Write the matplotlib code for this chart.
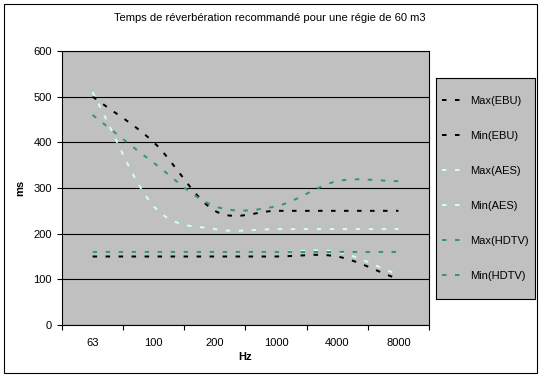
import matplotlib
matplotlib.use("Agg")
import matplotlib.pyplot as plt
from matplotlib.path import Path
from matplotlib.patches import PathPatch, Rectangle
from matplotlib.lines import Line2D

plt.rcParams['font.family'] = ['Liberation Sans', 'DejaVu Sans']
plt.rcParams['font.size'] = 8

title = "Temps de réverbération recommandé pour une régie de 60 m3"
freqs = ["63", "100", "200", "1000", "4000", "8000"]

# values (ms)
max_ebu = [500, 400, 250, 250, 250, 250]
min_ebu = [150, 150, 150, 150, 150, 100]
max_aes = [510, 260, 210, 210, 210, 210]
min_aes = [160, 160, 160, 160, 160, 110]
max_hdtv = [460, 355, 260, 260, 315, 315]
min_hdtv = [160, 160, 160, 160, 160, 160]

labels = ["Max(EBU)", "Min(EBU)", "Max(AES)", "Min(AES)", "Max(HDTV)", "Min(HDTV)"]
values = [max_ebu, min_ebu, max_aes, min_aes, max_hdtv, min_hdtv]
colors = ["black", "black", "#CCFFFF", "#CCFFFF", "#339966", "#339966"]

dash = (0, (2.25, 4.25))
lw = 1.44


def smooth_path(xs, ys):
    # excel style "smoothed line": bezier segments through the points
    n = len(xs)
    tang = []
    for i in range(n):
        if i == 0:
            tang.append((xs[1] - xs[0], ys[1] - ys[0]))
        elif i == n - 1:
            tang.append((xs[-1] - xs[-2], ys[-1] - ys[-2]))
        else:
            tang.append(((xs[i+1] - xs[i-1]) / 2, (ys[i+1] - ys[i-1]) / 2))
    verts = [(xs[0], ys[0])]
    codes = [Path.MOVETO]
    for i in range(n - 1):
        verts.append((xs[i] + tang[i][0] / 3, ys[i] + tang[i][1] / 3))
        verts.append((xs[i+1] - tang[i+1][0] / 3, ys[i+1] - tang[i+1][1] / 3))
        verts.append((xs[i+1], ys[i+1]))
        codes += [Path.CURVE4] * 3
    return Path(verts, codes)


fig = plt.figure(figsize=(5.42, 3.79), dpi=100)
W, H = 542.0, 379.0
ax = fig.add_axes([62/W, 1 - 325/H, (429-62)/W, (325-51)/H])
ax.set_facecolor('#C0C0C0')

x = list(range(1, len(freqs) + 1))
for vals, col in zip(values, colors):
    ax.add_patch(PathPatch(smooth_path(x, vals), fill=False, edgecolor=col,
                           lw=lw, linestyle=dash, capstyle='butt', zorder=3))

ax.set_xlim(0.5, len(freqs) + 0.5)
ax.set_ylim(0, 600)
ax.set_yticks(range(0, 601, 100))
ax.yaxis.grid(True, color='black', lw=0.8)
ax.set_axisbelow(True)

ax.set_xticks([i + 0.5 for i in range(0, len(freqs) + 1)])
ax.set_xticklabels([])
ax.set_xticks(x, minor=True)
ax.set_xticklabels(freqs, minor=True)
ax.tick_params(axis='x', which='major', length=3.6, width=0.8, direction='out')
ax.tick_params(axis='x', which='minor', length=0, pad=9)
ax.tick_params(axis='y', length=3.6, width=0.8, pad=3.6)
for s in ax.spines.values():
    s.set_linewidth(0.8)

fig.text(270/W, 1 - 18/H, title, ha='center', va='center')
fig.text(245/W, 1 - 357/H, "Hz", ha='center', va='center', fontweight='bold')
fig.text(20/W, 1 - 188/H, "ms", ha='center', va='center', rotation=90, fontweight='bold')

# legend box
lax = fig.add_axes([436/W, 1 - 299/H, (535-436)/W, (299-78)/H])
lax.set_facecolor('#C0C0C0')
lax.set_xticks([])
lax.set_yticks([])
for s in lax.spines.values():
    s.set_linewidth(0.8)
handles = [Line2D([], [], color=c, lw=lw, linestyle=dash) for c in colors]
lax.legend(handles, labels, loc='center', frameon=False, labelspacing=2.25,
           handlelength=2.2, handletextpad=0.3, borderaxespad=0)

fig.patches.append(Rectangle((4/W, 1 - 373/H), (537-4)/W, (373-4)/H,
                             transform=fig.transFigure, fill=False,
                             edgecolor='black', lw=0.8))

fig.savefig("out.png", dpi=100)
